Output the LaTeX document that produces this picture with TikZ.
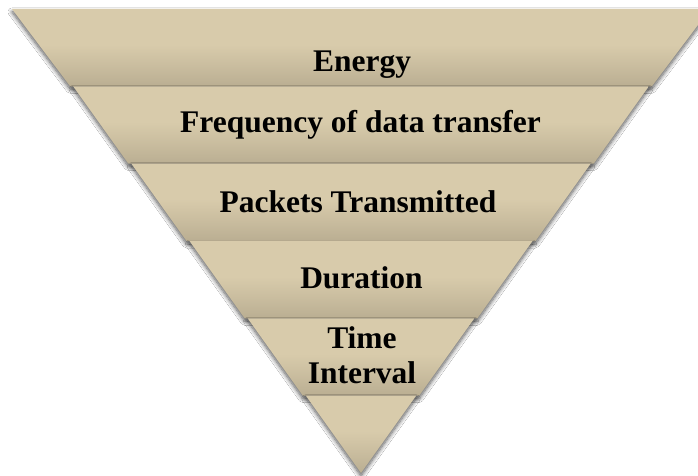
\documentclass[tikz,border=0pt]{standalone}
\usepackage{fontspec}
\setmainfont{Liberation Serif}
\usetikzlibrary{shadows.blur}

\definecolor{bandlight}{RGB}{216,203,171}
\definecolor{banddark}{RGB}{186,174,146}

% vertical gradient of one band: light above, darkening towards the lower edge
\pgfdeclareverticalshading{bandshade}{100bp}{%
  color(0bp)=(banddark); color(25bp)=(banddark);
  color(38bp)=(banddark!50!bandlight); color(52bp)=(bandlight);
  color(100bp)=(bandlight)}

\tikzset{
  band/.style={shading=bandshade,
    blur shadow={shadow xshift=0pt, shadow yshift=-3pt,
                 shadow blur radius=4pt, shadow opacity=65,
                 shadow blur steps=8}},
  lbl/.style={anchor=base, inner sep=0pt, align=center, text=black,
    font=\fontsize{31.5}{35}\selectfont\bfseries}
}

\begin{document}
\begin{tikzpicture}[x=1pt, y=-1pt]
  \useasboundingbox (0,0) rectangle (698,476);
  \fill[white] (0,0) rectangle (698,476);
  \clip (0,0) rectangle (698,476);

  % six stacked slices of the inverted triangle, top to bottom
  % (half width at height y: 0.752155*(473-y))
  \foreach \k in {0,...,5} {
    \pgfmathsetmacro\bandytop{9+77.3333*\k}
    \pgfmathsetmacro\bandybot{9+77.3333*(\k+1)}
    \pgfmathsetmacro\bandhwtop{0.752155*(473-\bandytop) - (\k>0)*3}
    \pgfmathsetmacro\bandhwbot{0.752155*(473-\bandybot)}
    \path[band] (361-\bandhwtop,\bandytop) -- (361+\bandhwtop,\bandytop)
                -- (361+\bandhwbot,\bandybot) -- (361-\bandhwbot,\bandybot)
                -- cycle;
  }

  \node[lbl] (energy)   at (362,72)   {Energy};
  \node[lbl] (freq)     at (360.5,132) {Frequency of data transfer};
  \node[lbl] (packets)  at (358,212)  {Packets Transmitted};
  \node[lbl] (duration) at (361.5,288) {Duration};
  % the base anchor of a two-line node is the baseline of its last line
  \node[lbl] (interval) at (362,383)  {Time\\Interval};
\end{tikzpicture}
\end{document}
